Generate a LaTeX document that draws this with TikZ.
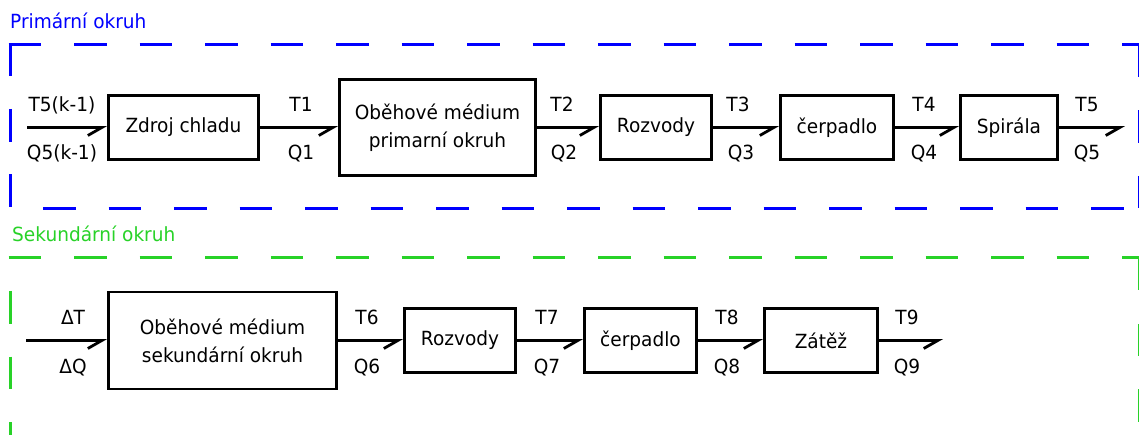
\documentclass[tikz,border=0pt]{standalone}
\usepackage{fontspec}
\setmainfont{DejaVu Sans}[FakeStretch=0.95]
\usetikzlibrary{arrows.meta}
\definecolor{pblue}{RGB}{0,0,255}
\definecolor{sgreen}{RGB}{40,210,40}
\begin{document}
\begin{tikzpicture}[x=1pt,y=-1pt,
  blk/.style={draw, line width=2.8pt, inner sep=0pt, align=center,
    font=\fontsize{19.5}{28}\selectfont, minimum height=64pt},
  bigblk/.style={blk, minimum height=96pt},
  flow/.style={line width=2.8pt, -{Straight Barb[harpoon,swap,length=14pt,width=16pt]}},
  lbl/.style={anchor=base, inner sep=0pt, font=\fontsize{19.5}{22}\selectfont},
  ttl/.style={anchor=base west, inner sep=0pt, font=\fontsize{19.5}{22}\selectfont},
  frameP/.style={pblue, line width=3pt, dash pattern=on 32.5pt off 33pt},
  frameS/.style={sgreen, line width=3pt, dash pattern=on 32.5pt off 33pt}]
\useasboundingbox (0,0) rectangle (1139,435);
\clip (0,0) rectangle (1139,435);

% frames
\draw[frameP] (8.5,45) -- (1141,45);
\draw[frameP, dash pattern=on 33pt off 32.5pt] (10,43.5) -- (10,209);
\draw[frameP, dash phase=32.5pt] (10,209) -- (1141,209);
\draw[frameP] (1139.5,45) -- (1139.5,209);
\draw[frameS] (8.5,258) -- (1141,258);
\draw[frameS, dash phase=32.5pt] (10,258) -- (10,440);
\draw[frameS] (1139.5,258) -- (1139.5,440);

\node[ttl, text=pblue] (tp) at (10,28.5) {Primární okruh};
\node[ttl, text=sgreen] (ts) at (12,242) {Sekundární okruh};

% primary row
\node[blk, minimum width=150pt] (z1) at (183.5,127.5) {Zdroj chladu};
\node[bigblk, minimum width=196pt] (p2) at (437.5,127.5) {Oběhové médium\\primarní okruh};
\node[blk, minimum width=111pt] (p3) at (656,127.5) {Rozvody};
\node[blk, minimum width=113pt] (p4) at (837,127.5) {čerpadlo};
\node[blk, minimum width=97pt] (p5) at (1009,127.5) {Spirála};
\coordinate (pin) at (27,127.5);
\coordinate (pout) at (1125,127.5);
\draw[flow] (pin) -- (pin -| z1.west);
\draw[flow] (z1.east) -- (z1.east -| p2.west);
\draw[flow] (p2.east) -- (p2.east -| p3.west);
\draw[flow] (p3.east) -- (p3.east -| p4.west);
\draw[flow] (p4.east) -- (p4.east -| p5.west);
\draw[flow] (p5.east) -- (p5.east -| pout);

\node[lbl] (t5k) at (62,111.5) {T5(k-1)};
\node[lbl] (q5k) at (62,160) {Q5(k-1)};
\node[lbl] (t1) at (301,111.5) {T1};
\node[lbl] (q1) at (301,160) {Q1};
\node[lbl] (t2) at (562,111.5) {T2};
\node[lbl] (q2) at (564,160) {Q2};
\node[lbl] (t3) at (738,111.5) {T3};
\node[lbl] (q3) at (741,160) {Q3};
\node[lbl] (t4) at (924,111.5) {T4};
\node[lbl] (q4) at (924,160) {Q4};
\node[lbl] (t5) at (1087,111.5) {T5};
\node[lbl] (q5) at (1087,160) {Q5};

% secondary row
\node[bigblk, minimum width=228pt, minimum height=97pt] (s1) at (222.5,340.5) {Oběhové médium\\sekundární okruh};
\node[blk, minimum width=111pt] (s2) at (460,340.5) {Rozvody};
\node[blk, minimum width=112pt] (s3) at (640.5,340.5) {čerpadlo};
\node[blk, minimum width=113pt] (s4) at (821,340.5) {Zátěž};
\coordinate (sin) at (26,340.5);
\coordinate (sout) at (943,340.5);
\draw[flow] (sin) -- (sin -| s1.west);
\draw[flow] (s1.east) -- (s1.east -| s2.west);
\draw[flow] (s2.east) -- (s2.east -| s3.west);
\draw[flow] (s3.east) -- (s3.east -| s4.west);
\draw[flow] (s4.east) -- (s4.east -| sout);

\node[lbl] (dt) at (73,324.5) {ΔT};
\node[lbl] (dq) at (73,373.5) {ΔQ};
\node[lbl] (t6) at (367,324.5) {T6};
\node[lbl] (q6) at (367,373.5) {Q6};
\node[lbl] (t7) at (547,324.5) {T7};
\node[lbl] (q7) at (547,373.5) {Q7};
\node[lbl] (t8) at (727,324.5) {T8};
\node[lbl] (q8) at (727,373.5) {Q8};
\node[lbl] (t9) at (907,324.5) {T9};
\node[lbl] (q9) at (907,373.5) {Q9};
\end{tikzpicture}
\end{document}
